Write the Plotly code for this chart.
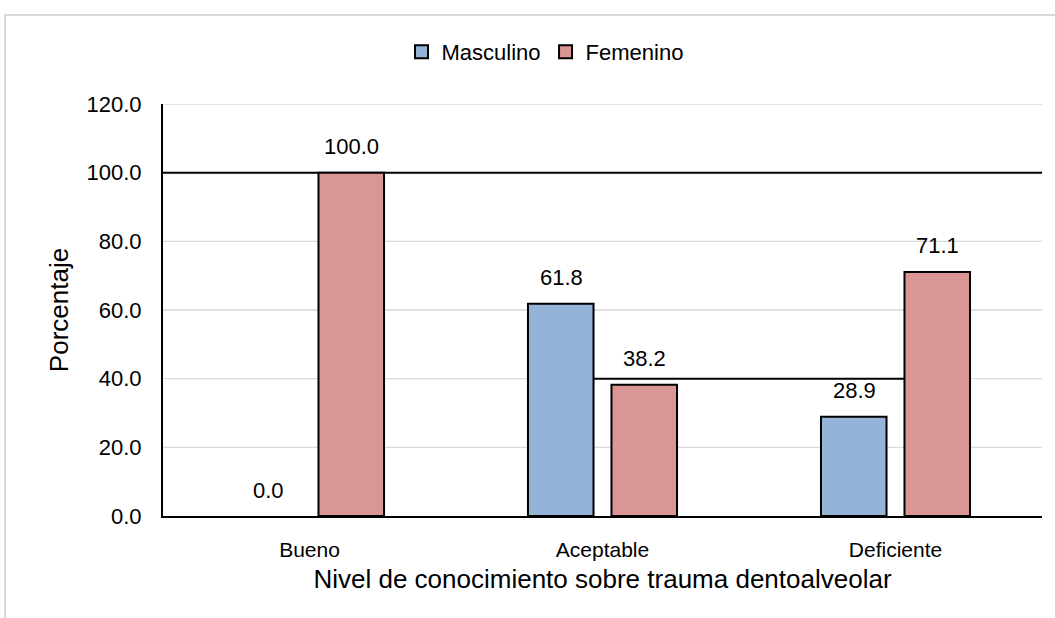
import plotly.graph_objects as go

categories = ["Bueno", "Aceptable", "Deficiente"]
masculino = [0.0, 61.8, 28.9]
femenino = [100.0, 38.2, 71.1]
series_names = ["Masculino", "Femenino"]
y_ticks = [0, 20, 40, 60, 80, 100, 120]
y_ticktext = ["0.0", "20.0", "40.0", "60.0", "80.0", "100.0", "120.0"]

FONT = "Liberation Sans, Arial, sans-serif"
BLUE = "#95B3D7"
PINK = "#D99694"
colors = [BLUE, PINK]

def edge_widths(vals):
    return [0 if v == 0 else 2 for v in vals]

fig = go.Figure()
for name, vals, col in zip(series_names, (masculino, femenino), colors):
    fig.add_trace(go.Bar(name=name, x=categories, y=vals, showlegend=False,
                         legendgroup=name,
                         marker=dict(color=col, line=dict(color="black", width=edge_widths(vals)))))
# legend entries (outlined square swatches)
for name, col in zip(series_names, colors):
    fig.add_trace(go.Scatter(name=name, x=[None], y=[None], mode="markers", legendgroup=name,
                             marker=dict(symbol="square", size=13, color=col,
                                         line=dict(color="black", width=2))))

# data labels
shift = 41.5
for vals, xs in ((masculino, -shift), (femenino, shift)):
    for c, v in zip(categories, vals):
        fig.add_annotation(x=c, y=v, text=f"{v:.1f}", showarrow=False,
                           xshift=xs, yshift=26, yanchor="middle",
                           font=dict(family=FONT, size=22, color="black"))

# gridlines (100 drawn dark, as in reference)
for t in y_ticks[1:]:
    fig.add_shape(type="line", xref="paper", yref="y", x0=0, x1=1, y0=t, y1=t,
                  line=dict(color="black" if t == 100 else "#d9d9d9",
                            width=2 if t == 100 else 1.3),
                  layer="between")
fig.add_shape(type="line", xref="x", yref="y", x0=0.97, x1=2.03, y0=40, y1=40,
              line=dict(color="black", width=2), layer="between")

# outer frame
W, H = 1055, 618
L, R, T, B = 163, 1042, 104, 516
pw, ph = R - L, B - T
def px(xp): return (xp - L) / pw
def py(yp): return (B - yp) / ph
fig.add_shape(type="rect", xref="paper", yref="paper",
              x0=px(5), x1=px(1070), y0=py(640), y1=py(15),
              line=dict(color="#d9d9d9", width=2), fillcolor="rgba(0,0,0,0)")

fig.update_layout(
    width=W, height=H,
    margin=dict(l=L, r=W - R, t=T, b=H - B, autoexpand=False),
    paper_bgcolor="white", plot_bgcolor="white",
    barmode="group", bargap=0.43, bargroupgap=0.215,
    font=dict(family=FONT, size=22, color="black"),
    showlegend=True,
    legend=dict(orientation="h", x=px(545), y=py(52), xanchor="center", yanchor="middle",
                font=dict(family=FONT, size=22, color="black"), itemwidth=30,
                bgcolor="rgba(0,0,0,0)"),
    xaxis=dict(showline=True, linecolor="black", linewidth=2, showgrid=False,
               ticks="", tickfont=dict(size=21), ticklabelstandoff=14,
               title=dict(text="Nivel de conocimiento sobre trauma dentoalveolar",
                          font=dict(size=26), standoff=10)),
    yaxis=dict(range=[0, 120], tickvals=y_ticks, ticktext=y_ticktext,
               showline=True, linecolor="black", linewidth=2,
               showgrid=False, zeroline=False,
               ticks="", ticklabelstandoff=15, tickfont=dict(size=22),
               title=dict(text="Porcentaje", font=dict(size=26), standoff=10)),
)

fig.write_html("out.html", config={"displayModeBar": False},
               post_script="document.body.style.margin='0';document.body.style.padding='0';")
